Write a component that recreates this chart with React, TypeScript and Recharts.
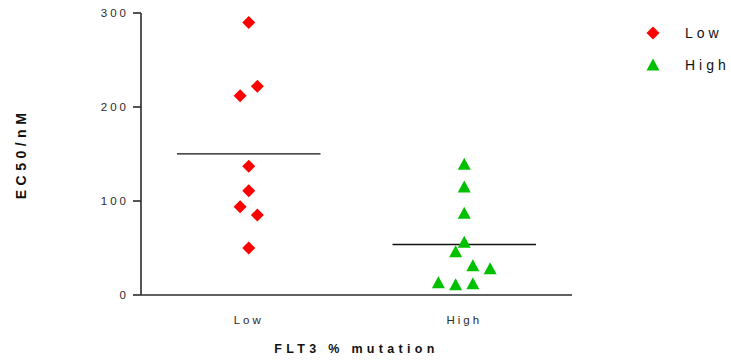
import { ReferenceLine, Scatter, ScatterChart, XAxis, YAxis } from 'recharts'

const groups = ['Low', 'High']
const yTicks = [0, 100, 200, 300]

// EC50 values (nM) per FLT3 mutation group
const lowValues = [290, 222, 212, 137, 111, 94, 85, 50]
const highValues = [139, 115, 87, 56, 46, 31, 28, 13, 11, 12]

// column slot for each point so overlapping values sit side by side
const lowSlots = [0, 1, -1, 0, 0, -1, 1, 0]
const highSlots = [0, 0, 0, 0, -1, 1, 3, -3, -1, 1]

const SLOT_WIDTH = 0.04
const MEAN_HALF_WIDTH = 0.333

const RED = '#ff0000'
const GREEN = '#00c000'
const INK = '#2b2b2b'
const FONT = '"Liberation Sans", Arial, sans-serif'

function toPoints(values: number[], slots: number[], group: number) {
  return values.map((value, i) => ({ x: group + slots[i] * SLOT_WIDTH, y: value }))
}

function mean(values: number[]) {
  return values.reduce((sum, v) => sum + v, 0) / values.length
}

const lowData = toPoints(lowValues, lowSlots, 1)
const highData = toPoints(highValues, highSlots, 2)
const lowMean = mean(lowValues)
const highMean = mean(highValues)

function diamondPath(cx: number, cy: number, r: number) {
  return `M${cx},${cy - r}L${cx + r},${cy}L${cx},${cy + r}L${cx - r},${cy}Z`
}

function trianglePath(cx: number, cy: number, r: number) {
  return `M${cx},${cy - r}L${cx + r},${cy + r - 1}L${cx - r},${cy + r - 1}Z`
}

function renderDiamond(props: { cx?: number; cy?: number }) {
  return <path d={diamondPath(props.cx ?? 0, props.cy ?? 0, 6.5)} fill={RED} />
}

function renderTriangle(props: { cx?: number; cy?: number }) {
  return <path d={trianglePath(props.cx ?? 0, props.cy ?? 0, 6.5)} fill={GREEN} />
}

function XTitle(props: any) {
  const { x, width } = props.viewBox
  return (
    <text
      x={x + width / 2}
      y={353}
      textAnchor="middle"
      fontFamily={FONT}
      fontSize={12.5}
      fontWeight="bold"
      letterSpacing={4.3}
      fill="#111"
    >
      FLT3 % mutation
    </text>
  )
}

function YTitle(props: any) {
  const { y, height } = props.viewBox
  const cx = 26
  const cy = y + height / 2
  return (
    <text
      x={cx}
      y={cy}
      transform={`rotate(-90 ${cx} ${cy})`}
      textAnchor="middle"
      fontFamily={FONT}
      fontSize={14}
      fontWeight="bold"
      letterSpacing={4.5}
      fill="#111"
    >
      EC50/nM
    </text>
  )
}

function LegendBox() {
  const rows = [
    { label: groups[0], d: diamondPath(8, 8, 6.5), fill: RED },
    { label: groups[1], d: trianglePath(8, 8, 6.5), fill: GREEN },
  ]
  return (
    <div style={{ position: 'absolute', left: 645, top: 25 }}>
      {rows.map((row) => (
        <div
          key={row.label}
          style={{ display: 'flex', alignItems: 'center', height: 16, marginBottom: 16 }}
        >
          <svg width={16} height={16}>
            <path d={row.d} fill={row.fill} />
          </svg>
          <span
            style={{
              marginLeft: 24,
              fontFamily: FONT,
              fontSize: 14,
              letterSpacing: 4,
              color: '#111',
            }}
          >
            {row.label}
          </span>
        </div>
      ))}
    </div>
  )
}

export default function App() {
  return (
    <div
      style={{
        position: 'absolute',
        left: 0,
        top: 0,
        width: 731,
        height: 360,
        background: '#fff',
      }}
    >
      <ScatterChart
        width={731}
        height={360}
        margin={{ top: 13, right: 159, bottom: 0, left: 0 }}
      >
        <XAxis
          type="number"
          dataKey="x"
          domain={[0.5, 2.5]}
          ticks={[1, 2]}
          tickFormatter={(v) => groups[Math.round(v) - 1]}
          height={65}
          stroke={INK}
          strokeWidth={1.6}
          tickLine={false}
          tickSize={0}
          tickMargin={21}
          tick={{ fontSize: 11.5, fontFamily: FONT, fill: INK, letterSpacing: 3 }}
          label={<XTitle />}
        />
        <YAxis
          type="number"
          dataKey="y"
          domain={[0, 300]}
          ticks={yTicks}
          width={141}
          stroke={INK}
          strokeWidth={1.6}
          tickSize={8}
          tickMargin={4}
          tick={{ fontSize: 11.5, fontFamily: FONT, fill: INK, letterSpacing: 3 }}
          label={<YTitle />}
        />
        <ReferenceLine
          segment={[
            { x: 1 - MEAN_HALF_WIDTH, y: lowMean },
            { x: 1 + MEAN_HALF_WIDTH, y: lowMean },
          ]}
          stroke="#111"
          strokeWidth={1.4}
        />
        <ReferenceLine
          segment={[
            { x: 2 - MEAN_HALF_WIDTH, y: highMean },
            { x: 2 + MEAN_HALF_WIDTH, y: highMean },
          ]}
          stroke="#111"
          strokeWidth={1.4}
        />
        <Scatter name="Low" data={lowData} shape={renderDiamond} isAnimationActive={false} />
        <Scatter name="High" data={highData} shape={renderTriangle} isAnimationActive={false} />
      </ScatterChart>
      <LegendBox />
    </div>
  )
}
